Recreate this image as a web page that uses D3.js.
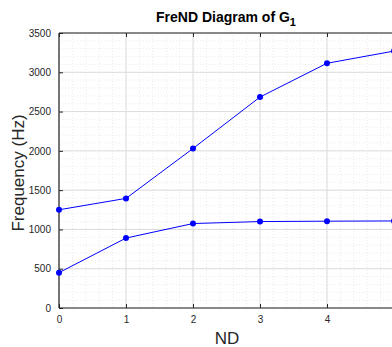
<!DOCTYPE html>
<html><head><meta charset="utf-8">
<script src="https://cdn.jsdelivr.net/npm/d3@7"></script>
<style>body{margin:0;background:#fff;overflow:hidden}svg{display:block}</style>
</head><body>
<script>
const ndValues = [0, 1, 2, 3, 4, 5];
const upperFreq = [1250, 1395, 2030, 2685, 3115, 3270];
const lowerFreq = [450, 890, 1075, 1100, 1105, 1108];
const xTicks = [0, 1, 2, 3, 4];
const yTicks = [0, 500, 1000, 1500, 2000, 2500, 3000, 3500];

const W = 392, H = 347;
const m = {left: 59, right: 394, top: 33, bottom: 308};
const svg = d3.select("body").append("svg").attr("width", W).attr("height", H);
const x = d3.scaleLinear().domain([0, 5]).range([m.left, m.right]);
const y = d3.scaleLinear().domain([0, 3500]).range([m.bottom, m.top]);
const axisCol = "#262626";

// minor grid
const xMinor = d3.range(0, 5.0001, 0.2);
const yMinor = d3.range(0, 3500.1, 100);
const g = svg.append("g");
g.selectAll(".xm").data(xMinor).join("line")
  .attr("x1", d => x(d)).attr("x2", d => x(d)).attr("y1", m.top).attr("y2", m.bottom)
  .attr("stroke", "#e3e3e3").attr("stroke-width", 0.7).attr("stroke-dasharray", "1,2");
g.selectAll(".ym").data(yMinor).join("line")
  .attr("y1", d => y(d)).attr("y2", d => y(d)).attr("x1", m.left).attr("x2", m.right)
  .attr("stroke", "#e3e3e3").attr("stroke-width", 0.7).attr("stroke-dasharray", "1,2");
// major grid
g.selectAll(".xM").data(xTicks).join("line")
  .attr("x1", d => x(d)).attr("x2", d => x(d)).attr("y1", m.top).attr("y2", m.bottom)
  .attr("stroke", "#dcdcdc").attr("stroke-width", 1);
g.selectAll(".yM").data(yTicks).join("line")
  .attr("y1", d => y(d)).attr("y2", d => y(d)).attr("x1", m.left).attr("x2", m.right)
  .attr("stroke", "#dcdcdc").attr("stroke-width", 1);

// axes
const fontFam = "'Liberation Sans', Arial, Helvetica, sans-serif";
const bottomAxis = d3.axisBottom(x).tickValues(xTicks).tickSize(-4).tickPadding(8).tickFormat(d3.format("d"));
const topAxis = d3.axisTop(x).tickValues(xTicks).tickSize(-4).tickFormat("");
const leftAxis = d3.axisLeft(y).tickValues(yTicks).tickSize(-4).tickPadding(8).tickFormat(d3.format("d"));
function style(sel){
  sel.select(".domain").attr("stroke", axisCol).attr("stroke-width", 1.2);
  sel.selectAll(".tick line").attr("stroke", axisCol);
  sel.selectAll("text").attr("fill", axisCol).style("font-family", fontFam).style("font-size", "10px");
}
svg.append("g").attr("transform", `translate(0,${m.bottom})`).call(bottomAxis).call(style)
  .call(s => s.select(".domain").attr("d", `M${m.left},0H${m.right}`));
svg.append("g").attr("transform", `translate(0,${m.top})`).call(topAxis).call(style)
  .call(s => s.select(".domain").attr("d", `M${m.left},0H${m.right}`));
svg.append("g").attr("transform", `translate(${m.left},0)`).call(leftAxis).call(style)
  .call(s => s.select(".domain").attr("d", `M0,${m.bottom}V${m.top}`));

// series
const line = d3.line().x((d, i) => x(ndValues[i])).y(d => y(d));
[upperFreq, lowerFreq].forEach(s => {
  svg.append("path").attr("d", line(s)).attr("fill", "none").attr("stroke", "#0000ff").attr("stroke-width", 1);
  svg.selectAll(null).data(s).join("circle")
    .attr("cx", (d, i) => x(ndValues[i])).attr("cy", d => y(d)).attr("r", 3).attr("fill", "#0000ff");
});

// labels
svg.append("text").attr("x", 227).attr("y", 344).attr("text-anchor", "middle")
  .style("font-family", fontFam).style("font-size", "17px").attr("fill", axisCol).text("ND");
svg.append("text").attr("transform", `translate(24,173) rotate(-90)`)
  .attr("text-anchor", "middle").style("font-family", fontFam).style("font-size", "17px")
  .attr("fill", axisCol).text("Frequency (Hz)");
const t = svg.append("text").attr("x", 226).attr("y", 22).attr("text-anchor", "middle")
  .style("font-family", fontFam).style("font-size", "14px").style("font-weight", "bold").attr("fill", "#000");
t.append("tspan").text("FreND Diagram of G");
t.append("tspan").attr("dy", 4).style("font-size", "11px").text("1");
</script>
</body></html>
